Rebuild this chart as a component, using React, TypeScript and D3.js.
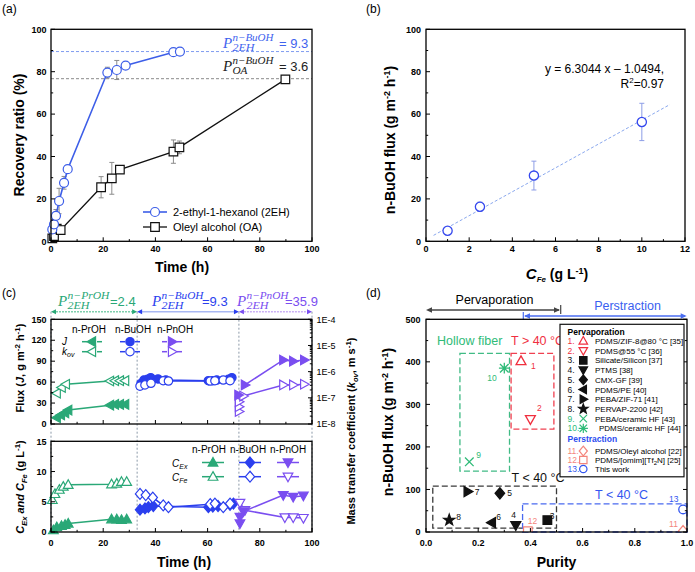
import React from "react";
import * as d3 from "d3";

const SANS = "'Liberation Sans', Arial, Helvetica, sans-serif";
const SERIF = "'Liberation Serif', 'Times New Roman', serif";

// ---------------- (a) data ----------------
const aTime2EH = [0.5, 1.15, 1.9, 3.1, 5, 6.4, 21.6, 25.2, 28.6, 46.9, 49.4];
const aRec2EH = [5.6, 8, 12, 19, 27.6, 34, 79.6, 80.8, 82.9, 89.2, 89.5];
const aErr2EH = [1.5, 2, 3, 6, 3, 1, 2.5, 4.5, 1, 1, 1];
const aTimeOA = [0.5, 1.15, 2.2, 3.7, 19.2, 23.3, 26.4, 46.9, 49.2, 89.8];
const aRecOA = [1.4, 2.5, 6, 5.3, 25.5, 29.7, 33.8, 42.3, 44.3, 76.4];
const aErrOA = [0.5, 1, 1, 1, 5, 7.5, 1.5, 5.5, 3, 1];
const aRef2EH = 89.5;
const aRefOA = 76.7;
const aTicks = [0, 20, 40, 60, 80, 100];
const aMinor = [10, 30, 50, 70, 90];
const aSeriesNames = ["2-ethyl-1-hexanol (2EH)", "Oleyl alcohol (OA)"];

// ---------------- (b) data ----------------
const bConc = [1, 2.5, 5, 10];
const bFlux = [5, 16.3, 31, 56.3];
const bErr = [1, 2.2, 6.8, 8.8];
const bFitX = [0.35, 11.3];
const bFitY = [2.8, 64.5];
const bXTicks = [0, 2, 4, 6, 8, 10, 12];
const bXMinor = [1, 3, 5, 7, 9, 11];
const bYTicks = [0, 20, 40, 60, 80, 100];
const bYMinor = [10, 30, 50, 70, 90];
const bEquation = ["y = 6.3044 x \u2013 1.0494,", "R", "2", "=0.97"];

// ---------------- (c) data ----------------
const cPrJT = [2.2, 3.8, 5.4, 6.6, 22.6, 24.5, 26.4, 28.4];
const cPrJ = [9, 13, 16, 20, 27, 28, 28, 28];
const cPrKT = [2.2, 4.1, 5.7, 22.6, 24.5, 26.4, 28.4];
const cPrK = [1.5e-7, 2.5e-7, 3.3e-7, 4.4e-7, 4.5e-7, 4.5e-7, 4.5e-7];
const cBuJT = [34.5, 35.6, 37, 38.2, 41, 44, 60.3, 62, 63.5, 68, 69.3];
const cBuJ = [58, 63, 64, 66.3, 64.5, 63, 62, 62, 63, 64, 66.3];
const cBuKT = [34.1, 36, 38.3, 43, 45, 61, 62.8, 66, 68.6];
const cBuK = [2.8e-7, 3.1e-7, 3.6e-7, 4.5e-7, 4.4e-7, 4.4e-7, 4.5e-7, 4.8e-7, 4.5e-7];
const cPnJT = [71.8, 74.3, 89, 92.8, 97];
const cPnJ = [41.5, 56, 91.7, 90, 91.7];
const cPnKT = [72, 72, 72, 73.7, 89, 92.8, 97];
const cPnK = [3e-8, 4.6e-8, 7.1e-8, 1.17e-7, 3.1e-7, 3.1e-7, 3.3e-7];

const cPrCexT = [0.9, 2.2, 4, 5.4, 6.6, 23.2, 25.2, 27, 29];
const cPrCex = [0.3, 0.8, 1.0, 1.2, 1.4, 2.1, 2.1, 2.0, 2.1];
const cPrCfeT = [0.5, 1.5, 3.2, 4.7, 6.6, 23.2, 25.2, 27, 29];
const cPrCfe = [5.3, 6.3, 7.0, 7.5, 7.8, 7.9, 8.0, 8.3, 8.3];
const cBuCexT = [34.1, 36, 37.3, 39.2, 60.3, 62, 64, 68.6, 69.9];
const cBuCex = [3.7, 3.9, 4.1, 4.3, 4.1, 4.2, 4.3, 4.5, 4.7];
const cBuCfeT = [34.1, 36.3, 39, 43, 45, 61, 62.8, 66, 68.6];
const cBuCfe = [6.3, 6.1, 5.7, 4.4, 4.1, 4.6, 4.7, 4.1, 4.7];
const cPnCexT = [72.4, 72.4, 73.7, 89, 92.8, 96.7];
const cPnCex = [1.4, 2.5, 3.4, 6.1, 5.8, 6.0];
const cPnCfeT = [72.4, 74.3, 89.6, 92.8, 96.7];
const cPnCfe = [4.8, 3.6, 2.4, 2.4, 2.3];

const cPhaseBounds = [0, 33, 72, 100];
const cPhaseValues = ["2.4", "9.3", "35.9"];
const cPhaseAlcohols = ["n\u2212PrOH", "n\u2212BuOH", "n\u2212PnOH"];
const cAlcoholNames = ["n-PrOH", "n-BuOH", "n-PnOH"];
const cXTicks = [0, 20, 40, 60, 80, 100];
const cXMinor = [10, 30, 50, 70, 90];
const cJTicks = [0, 30, 60, 90, 120, 150];
const cJMinor = [15, 45, 75, 105, 135];
const cKTicks = [1e-8, 1e-7, 1e-6, 1e-5, 1e-4];
const cKLabels = ["1E-8", "1E-7", "1E-6", "1E-5", "1E-4"];
const cCTicks = [0, 5, 10, 15];
const cCMinor = [2.5, 7.5, 12.5];

// ---------------- (d) data ----------------
const dNames = [
  "PDMS/ZIF-8@80 \u00B0C [35]",
  "PDMS@55 \u00B0C [36]",
  "Silicate/Silicon [37]",
  "PTMS [38]",
  "CMX-GF [39]",
  "PDMS/PE [40]",
  "PEBA/ZIF-71 [41]",
  "PERVAP-2200 [42]",
  "PEBA/ceramic HF [43]",
  "PDMS/ceramic HF [44]",
  "PDMS/Oleyl alcohol [22]",
  "PDMS/[omim][Tf2N] [25]",
  "This work",
];
const dPurity = [0.364, 0.40, 0.465, 0.344, 0.283, 0.252, 0.16, 0.089, 0.166, 0.30, 0.985, 0.39, 0.985];
const dFlux = [402, 265, 28, 16, 91, 22, 95, 28, 165, 385, 2, 2, 53];
const dShapes = ["triUp", "triDown", "square", "triDown", "diamond", "triLeft", "triRight", "star", "x", "asterisk", "diamond", "square", "circle"];
const dGroups = ["hot", "hot", "cold", "cold", "cold", "cold", "cold", "cold", "hf", "hf", "pers", "pers", "work"];
const dBoxGroups = ["hf", "hot", "cold", "work"];
const dBoxPurityMin = [0.13, 0.326, 0.026, 0.37];
const dBoxPurityMax = [0.32, 0.49, 0.50, 1.0];
const dBoxFluxMin = [143, 242, 9, 0];
const dBoxFluxMax = [420, 420, 108, 66];
const dXTicks = [0, 0.2, 0.4, 0.6, 0.8, 1.0];
const dXMinor = [0.1, 0.3, 0.5, 0.7, 0.9];
const dYTicks = [0, 100, 200, 300, 400, 500];
const dYMinor = [50, 150, 250, 350, 450];

// ---------------- styling ----------------
const A_BLUE = "#3d5ee8";
const GREEN = "#2aa877";
const BLUE = "#2b3fee";
const PURPLE = "#7a4ef0";
const D_COLORS: Record<string, string> = {
  hot: "#f0303f",
  cold: "#111111",
  hf: "#2fbb78",
  pers: "#f4857c",
  work: "#3356f0",
};
const D_BOX_COLORS: Record<string, string> = {
  hf: "#40bb85",
  hot: "#f04050",
  cold: "#3a3a3a",
  work: "#4a6af0",
};

function shapePath(shape: string, s: number): string {
  switch (shape) {
    case "circle":
      return `M${-s},0A${s},${s} 0 1,0 ${s},0A${s},${s} 0 1,0 ${-s},0Z`;
    case "square":
      return `M${-s},${-s}H${s}V${s}H${-s}Z`;
    case "diamond": {
      const t = s * 1.3;
      return `M0,${-t}L${t * 0.85},0L0,${t}L${-t * 0.85},0Z`;
    }
    case "triUp":
      return `M0,${-s * 1.2}L${s * 1.15},${s * 0.85}L${-s * 1.15},${s * 0.85}Z`;
    case "triDown":
      return `M0,${s * 1.2}L${s * 1.15},${-s * 0.85}L${-s * 1.15},${-s * 0.85}Z`;
    case "triLeft":
      return `M${-s * 1.2},0L${s * 0.85},${-s * 1.15}L${s * 0.85},${s * 1.15}Z`;
    case "triRight":
      return `M${s * 1.2},0L${-s * 0.85},${-s * 1.15}L${-s * 0.85},${s * 1.15}Z`;
    case "star": {
      const pts: string[] = [];
      for (let i = 0; i < 10; i++) {
        const r = i % 2 === 0 ? s * 1.35 : s * 0.55;
        const a = -Math.PI / 2 + (i * Math.PI) / 5;
        pts.push(`${(r * Math.cos(a)).toFixed(2)},${(r * Math.sin(a)).toFixed(2)}`);
      }
      return "M" + pts.join("L") + "Z";
    }
    case "x":
      return `M${-s},${-s}L${s},${s}M${-s},${s}L${s},${-s}`;
    case "asterisk": {
      const t = s * 1.25;
      return `M${-s},${-s}L${s},${s}M${-s},${s}L${s},${-s}M0,${-t}V${t}M${-t},0H${t}`;
    }
  }
  return "";
}

function Mk({ shape, x, y, s, color, filled, sw = 1.2 }: any) {
  const strokeOnly = shape === "x" || shape === "asterisk";
  return (
    <path
      d={shapePath(shape, s)}
      transform={`translate(${x},${y})`}
      fill={strokeOnly ? "none" : filled ? color : "#fff"}
      stroke={color}
      strokeWidth={sw}
    />
  );
}

function seriesPath(xs: any, ys: any, tx: number[], vy: number[]): string {
  return (
    d3
      .line<number>()
      .x((i) => xs(tx[i]))
      .y((i) => ys(vy[i]))(tx.map((_, i) => i)) || ""
  );
}

function Frame({ xs, ys, xMajor, xMinor, yMajor, yMinor, xFmt, yFmt, yLabelX, xLabelY, mirrorY }: any) {
  const [x0, x1] = xs.range();
  const [yb, yt] = ys.range();
  return (
    <g>
      {xMajor.map((v: number) => (
        <line key={"xM" + v} x1={xs(v)} x2={xs(v)} y1={yb} y2={yb - 4} stroke="#000" strokeWidth={1} />
      ))}
      {xMinor.map((v: number) => (
        <line key={"xm" + v} x1={xs(v)} x2={xs(v)} y1={yb} y2={yb - 2.2} stroke="#000" strokeWidth={1} />
      ))}
      {yMajor.map((v: number) => (
        <line key={"yM" + v} x1={x0} x2={x0 + 4} y1={ys(v)} y2={ys(v)} stroke="#000" strokeWidth={1} />
      ))}
      {yMinor.map((v: number) => (
        <line key={"ym" + v} x1={x0} x2={x0 + 2.2} y1={ys(v)} y2={ys(v)} stroke="#000" strokeWidth={1} />
      ))}
      {mirrorY &&
        yMajor.map((v: number) => (
          <line key={"yR" + v} x1={x1} x2={x1 - 4} y1={ys(v)} y2={ys(v)} stroke="#000" strokeWidth={1} />
        ))}
      {mirrorY &&
        yMinor.map((v: number) => (
          <line key={"yr" + v} x1={x1} x2={x1 - 2.2} y1={ys(v)} y2={ys(v)} stroke="#000" strokeWidth={1} />
        ))}
      {xFmt &&
        xMajor.map((v: number) => (
          <text key={"xl" + v} x={xs(v)} y={xLabelY} textAnchor="middle" fontSize={9} fontWeight="bold">
            {xFmt(v)}
          </text>
        ))}
      {yFmt &&
        yMajor.map((v: number) => (
          <text key={"yl" + v} x={yLabelX} y={ys(v) + 3.2} textAnchor="end" fontSize={9} fontWeight="bold">
            {yFmt(v)}
          </text>
        ))}
      <rect x={x0} y={yt} width={x1 - x0} height={yb - yt} fill="none" stroke="#000" strokeWidth={1.3} />
    </g>
  );
}

function ErrBars({ xs, ys, tx, vy, err, color }: any) {
  return (
    <g stroke={color} strokeWidth={1}>
      {tx.map((t: number, i: number) => {
        const x = xs(t);
        const ya = ys(vy[i] - err[i]);
        const yb = ys(vy[i] + err[i]);
        return (
          <g key={i}>
            <line x1={x} x2={x} y1={ya} y2={yb} />
            <line x1={x - 2.5} x2={x + 2.5} y1={ya} y2={ya} />
            <line x1={x - 2.5} x2={x + 2.5} y1={yb} y2={yb} />
          </g>
        );
      })}
    </g>
  );
}

function VText({ x, y, children, ...rest }: any) {
  return (
    <text transform={`translate(${x},${y}) rotate(-90)`} textAnchor="middle" {...rest}>
      {children}
    </text>
  );
}

// P with stacked super/subscript; widths set so the parts never collide
function PLabel({ x, y, sup, sub, val, color, supW, subW, valX, supDy = -7.5, subDy = 3 }: any) {
  return (
    <g fill={color}>
      <text x={x} y={y} fontFamily={SERIF} fontStyle="italic" fontSize={15}>
        P
      </text>
      <text
        x={x + 9.5}
        y={y + supDy}
        fontFamily={SERIF}
        fontStyle="italic"
        fontSize={10.5}
        textLength={supW}
        lengthAdjust="spacingAndGlyphs"
      >
        {sup}
      </text>
      <text
        x={x + 9.5}
        y={y + subDy}
        fontFamily={SERIF}
        fontStyle="italic"
        fontSize={10.5}
        textLength={subW}
        lengthAdjust="spacingAndGlyphs"
      >
        {sub}
      </text>
      <text x={x + valX} y={y} fontSize={13}>
        {val}
      </text>
    </g>
  );
}

// ============================ (a) ============================
function PanelA() {
  const xs = d3.scaleLinear().domain([0, 100]).range([51, 312]);
  const ys = d3.scaleLinear().domain([0, 100]).range([241.3, 29.3]);
  const l2 = seriesPath(xs, ys, aTime2EH, aRec2EH);
  const lO = seriesPath(xs, ys, aTimeOA, aRecOA);
  return (
    <g>
      <text x={2} y={13} fontSize={12}>
        (a)
      </text>
      <line x1={51} x2={312} y1={ys(aRef2EH)} y2={ys(aRef2EH)} stroke="#7f9cf0" strokeDasharray="3,2" />
      <line x1={51} x2={312} y1={ys(aRefOA)} y2={ys(aRefOA)} stroke="#8a8a8a" strokeDasharray="3,2" />
      <ErrBars xs={xs} ys={ys} tx={aTimeOA} vy={aRecOA} err={aErrOA} color="#8c8c8c" />
      <ErrBars xs={xs} ys={ys} tx={aTime2EH} vy={aRec2EH} err={aErr2EH} color="#8c8c8c" />
      <path d={lO} fill="none" stroke="#111" strokeWidth={1.3} />
      <path d={l2} fill="none" stroke={A_BLUE} strokeWidth={1.6} />
      {aTimeOA.map((t, i) => (
        <Mk key={"o" + i} shape="square" x={xs(t)} y={ys(aRecOA[i])} s={4.3} color="#111" filled={false} />
      ))}
      {aTime2EH.map((t, i) => (
        <Mk key={"e" + i} shape="circle" x={xs(t)} y={ys(aRec2EH[i])} s={4.5} color={A_BLUE} filled={false} />
      ))}
      <Frame
        xs={xs}
        ys={ys}
        xMajor={aTicks}
        xMinor={aMinor}
        yMajor={aTicks}
        yMinor={aMinor}
        xFmt={(v: number) => String(v)}
        yFmt={(v: number) => String(v)}
        yLabelX={46.5}
        xLabelY={252}
      />
      {/* legend */}
      <line x1={143} x2={167} y1={212} y2={212} stroke={A_BLUE} strokeWidth={1.6} />
      <Mk shape="circle" x={155} y={212} s={4.5} color={A_BLUE} filled={false} />
      <text x={173} y={216} fontSize={11}>
        {aSeriesNames[0]}
      </text>
      <line x1={143} x2={167} y1={227} y2={227} stroke="#111" strokeWidth={1.3} />
      <Mk shape="square" x={155} y={227} s={4.3} color="#111" filled={false} />
      <text x={173} y={231} fontSize={11}>
        {aSeriesNames[1]}
      </text>
      <PLabel x={223} y={48} sup={"n\u2212BuOH"} sub="2EH" val="= 9.3" color="#3f63ee" supW={41} subW={22} valX={56} />
      <PLabel x={223} y={71} sup={"n\u2212BuOH"} sub="OA" val="= 3.6" color="#222" supW={41} subW={15} valX={56} />
      <VText x={24} y={135} fontSize={14} fontWeight="bold">
        Recovery ratio (%)
      </VText>
      <text x={182} y={272} textAnchor="middle" fontSize={14} fontWeight="bold">
        Time (h)
      </text>
    </g>
  );
}

// ============================ (b) ============================
function PanelB() {
  const xs = d3.scaleLinear().domain([0, 12]).range([426, 685]);
  const ys = d3.scaleLinear().domain([0, 100]).range([241.3, 29.3]);
  return (
    <g>
      <text x={366} y={13} fontSize={12}>
        (b)
      </text>
      <path d={seriesPath(xs, ys, bFitX, bFitY)} fill="none" stroke="#8aa8ee" strokeDasharray="3,2" strokeWidth={1} />
      <ErrBars xs={xs} ys={ys} tx={bConc} vy={bFlux} err={bErr} color="#8d9de6" />
      {bConc.map((c, i) => (
        <Mk key={i} shape="circle" x={xs(c)} y={ys(bFlux[i])} s={4.6} color="#3548ee" filled={false} sw={1.3} />
      ))}
      <Frame
        xs={xs}
        ys={ys}
        xMajor={bXTicks}
        xMinor={bXMinor}
        yMajor={bYTicks}
        yMinor={bYMinor}
        xFmt={(v: number) => String(v)}
        yFmt={(v: number) => String(v)}
        yLabelX={421}
        xLabelY={252}
      />
      <text x={664} y={73} textAnchor="end" fontSize={12}>
        {bEquation[0]}
      </text>
      <text x={664} y={88} textAnchor="end" fontSize={12}>
        {bEquation[1]}
        <tspan dy={-5} fontSize={8}>
          {bEquation[2]}
        </tspan>
        <tspan dy={5}>{bEquation[3]}</tspan>
      </text>
      <VText x={395} y={140} fontSize={14} fontWeight="bold">
        n-BuOH flux (g m<tspan dy={-5} fontSize={9}>-2</tspan>
        <tspan dy={5}> h</tspan>
        <tspan dy={-5} fontSize={9}>-1</tspan>
        <tspan dy={5}>)</tspan>
      </VText>
      <text x={557} y={279} textAnchor="middle" fontSize={14} fontWeight="bold">
        <tspan fontStyle="italic" fontSize={15}>C</tspan>
        <tspan dy={3} fontStyle="italic" fontSize={8}>Fe</tspan>
        <tspan dy={-3}> (g L</tspan>
        <tspan dy={-5} fontSize={9}>-1</tspan>
        <tspan dy={5}>)</tspan>
      </text>
    </g>
  );
}

// ============================ (c) ============================
function PanelC() {
  const xs = d3.scaleLinear().domain([0, 100]).range([51, 312]);
  const yJ = d3.scaleLinear().domain([0, 150]).range([424, 319.3]);
  const yK = d3.scaleLog().domain([1e-8, 1e-4]).range([424, 319.3]);
  const yC = d3.scaleLinear().domain([0, 15]).range([532, 441.3]);
  const phaseColors = [GREEN, BLUE, PURPLE];
  const arrowLine = ["#7fd0ad", "#a9b8f3", "#cbb0f5"];
  const arrowY = 311.7;
  const kMinor: number[] = [];
  for (let e = -8; e < -4; e++) for (let m = 2; m < 10; m++) kMinor.push(m * Math.pow(10, e));
  const ms = 4.2;
  const pX = [58, 152, 237];
  const pValX = [52, 50, 48];
  return (
    <g>
      <text x={2} y={297} fontSize={12}>
        (c)
      </text>
      {/* phase separators */}
      {cPhaseBounds.map((b, i) => (
        <line key={"sep" + i} x1={xs(b)} x2={xs(b)} y1={arrowY} y2={532} stroke="#8b99a8" strokeDasharray="2,2" strokeWidth={1} />
      ))}
      {/* phase arrows */}
      {cPhaseValues.map((v, i) => {
        const xa = xs(cPhaseBounds[i]);
        const xb = xs(cPhaseBounds[i + 1]);
        const c = phaseColors[i];
        return (
          <g key={"ph" + i}>
            <line x1={xa + 2} x2={xb - 2} y1={arrowY} y2={arrowY} stroke={arrowLine[i]} strokeWidth={1.6} strokeDasharray={i === 1 ? undefined : "2,1"} />
            <path d={`M${xa},${arrowY}l5,-2.5v5z`} fill={c} />
            <path d={`M${xb},${arrowY}l-5,-2.5v5z`} fill={c} />
            <PLabel
              x={pX[i]}
              y={306}
              sup={cPhaseAlcohols[i]}
              sub="2EH"
              val={"=" + v}
              color={c}
              supW={42}
              subW={22}
              valX={pValX[i]}
            />
          </g>
        );
      })}

      {/* ---- top subplot ---- */}
      <path d={seriesPath(xs, yJ, cPrJT, cPrJ)} fill="none" stroke={GREEN} strokeWidth={1.5} />
      <path d={seriesPath(xs, yK, cPrKT, cPrK)} fill="none" stroke={GREEN} strokeWidth={1.5} />
      <path d={seriesPath(xs, yJ, cBuJT, cBuJ)} fill="none" stroke={BLUE} strokeWidth={1.5} />
      <path d={seriesPath(xs, yK, cBuKT, cBuK)} fill="none" stroke={BLUE} strokeWidth={1.5} />
      <path d={seriesPath(xs, yJ, cPnJT.slice(1), cPnJ.slice(1))} fill="none" stroke={PURPLE} strokeWidth={1.5} />
      <path d={seriesPath(xs, yK, cPnKT.slice(3), cPnK.slice(3))} fill="none" stroke={PURPLE} strokeWidth={1.5} />
      {cPrKT.map((t, i) => <Mk key={"pk" + i} shape="triLeft" x={xs(t)} y={yK(cPrK[i])} s={ms} color={GREEN} filled={false} />)}
      {cPrJT.map((t, i) => <Mk key={"pj" + i} shape="triLeft" x={xs(t)} y={yJ(cPrJ[i])} s={ms} color={GREEN} filled={true} />)}
      {cBuJT.map((t, i) => <Mk key={"bj" + i} shape="circle" x={xs(t)} y={yJ(cBuJ[i])} s={ms} color={BLUE} filled={true} />)}
      {cBuKT.map((t, i) => <Mk key={"bk" + i} shape="circle" x={xs(t)} y={yK(cBuK[i])} s={ms} color={BLUE} filled={false} />)}
      {cPnKT.map((t, i) => <Mk key={"nk" + i} shape="triRight" x={xs(t)} y={yK(cPnK[i])} s={ms} color={PURPLE} filled={false} />)}
      {cPnJT.map((t, i) => <Mk key={"nj" + i} shape="triRight" x={xs(t)} y={yJ(cPnJ[i])} s={ms} color={PURPLE} filled={true} />)}
      <Frame
        xs={xs}
        ys={yJ}
        xMajor={cXTicks}
        xMinor={cXMinor}
        yMajor={cJTicks}
        yMinor={cJMinor}
        yFmt={(v: number) => String(v)}
        yLabelX={46.5}
      />
      {cKTicks.map((v, i) => (
        <g key={"kt" + i}>
          <line x1={312} x2={308} y1={yK(v)} y2={yK(v)} stroke="#000" />
          <text x={316.5} y={yK(v) + 3.2} fontSize={9}>
            {cKLabels[i]}
          </text>
        </g>
      ))}
      {kMinor.map((v, i) => (
        <line key={"km" + i} x1={312} x2={309.8} y1={yK(v)} y2={yK(v)} stroke="#000" />
      ))}
      {/* top legend */}
      {cAlcoholNames.map((n, i) => (
        <text key={"ln" + i} x={[72, 115, 157][i]} y={333} fontSize={10}>
          {n}
        </text>
      ))}
      <text x={62} y={345} fontSize={10} fontStyle="italic">
        J
      </text>
      <text x={62} y={355} fontSize={10} fontStyle="italic">
        k<tspan dy={2} fontSize={7}>ov</tspan>
      </text>
      {[0, 1, 2].map((i) => {
        const cx = [92, 130, 172][i];
        const shape = ["triLeft", "circle", "triRight"][i];
        const c = phaseColors[i];
        return (
          <g key={"lg" + i}>
            <line x1={cx - 10} x2={cx - 5} y1={341.7} y2={341.7} stroke={c} strokeWidth={1.5} />
            <line x1={cx + 5} x2={cx + 10} y1={341.7} y2={341.7} stroke={c} strokeWidth={1.5} />
            <Mk shape={shape} x={cx} y={341.7} s={ms} color={c} filled={true} />
            <line x1={cx - 10} x2={cx - 5} y1={351.7} y2={351.7} stroke={c} strokeWidth={1.5} />
            <line x1={cx + 5} x2={cx + 10} y1={351.7} y2={351.7} stroke={c} strokeWidth={1.5} />
            <Mk shape={shape} x={cx} y={351.7} s={ms} color={c} filled={false} />
          </g>
        );
      })}

      {/* ---- bottom subplot ---- */}
      <path d={seriesPath(xs, yC, cPrCexT, cPrCex)} fill="none" stroke={GREEN} strokeWidth={1.5} />
      <path d={seriesPath(xs, yC, cPrCfeT, cPrCfe)} fill="none" stroke={GREEN} strokeWidth={1.5} />
      <path d={seriesPath(xs, yC, cBuCexT, cBuCex)} fill="none" stroke={BLUE} strokeWidth={1.5} />
      <path d={seriesPath(xs, yC, cBuCfeT, cBuCfe)} fill="none" stroke={BLUE} strokeWidth={1.5} />
      <path d={seriesPath(xs, yC, cPnCexT.slice(1), cPnCex.slice(1))} fill="none" stroke={PURPLE} strokeWidth={1.5} />
      <path d={seriesPath(xs, yC, cPnCfeT, cPnCfe)} fill="none" stroke={PURPLE} strokeWidth={1.5} />
      {cPrCfeT.map((t, i) => <Mk key={"pf" + i} shape="triUp" x={xs(t)} y={yC(cPrCfe[i])} s={ms} color={GREEN} filled={false} />)}
      {cPrCexT.map((t, i) => <Mk key={"pe" + i} shape="triUp" x={xs(t)} y={yC(cPrCex[i])} s={ms} color={GREEN} filled={true} />)}
      {cBuCexT.map((t, i) => <Mk key={"be" + i} shape="diamond" x={xs(t)} y={yC(cBuCex[i])} s={ms} color={BLUE} filled={true} />)}
      {cBuCfeT.map((t, i) => <Mk key={"bf" + i} shape="diamond" x={xs(t)} y={yC(cBuCfe[i])} s={ms} color={BLUE} filled={false} />)}
      {cPnCfeT.map((t, i) => <Mk key={"nf" + i} shape="triDown" x={xs(t)} y={yC(cPnCfe[i])} s={ms} color={PURPLE} filled={false} />)}
      {cPnCexT.map((t, i) => <Mk key={"ne" + i} shape="triDown" x={xs(t)} y={yC(cPnCex[i])} s={ms} color={PURPLE} filled={true} />)}
      <Frame
        xs={xs}
        ys={yC}
        xMajor={cXTicks}
        xMinor={cXMinor}
        yMajor={cCTicks}
        yMinor={cCMinor}
        xFmt={(v: number) => String(v)}
        yFmt={(v: number) => String(v)}
        yLabelX={46.5}
        xLabelY={545.5}
      />
      {/* bottom legend */}
      {cAlcoholNames.map((n, i) => (
        <text key={"bn" + i} x={[192, 230, 270][i]} y={453} fontSize={10}>
          {n}
        </text>
      ))}
      <text x={172} y={466.5} fontSize={10} fontStyle="italic">
        C<tspan dy={2} fontSize={7}>Ex</tspan>
      </text>
      <text x={172} y={480.5} fontSize={10} fontStyle="italic">
        C<tspan dy={2} fontSize={7}>Fe</tspan>
      </text>
      {[0, 1, 2].map((i) => {
        const cx = [213, 250, 288][i];
        const shape = ["triUp", "diamond", "triDown"][i];
        const c = phaseColors[i];
        return (
          <g key={"bl" + i}>
            <line x1={cx - 11} x2={cx + 11} y1={462.5} y2={462.5} stroke={c} strokeWidth={1.5} />
            <Mk shape={shape} x={cx} y={462.5} s={ms} color={c} filled={true} />
            <line x1={cx - 11} x2={cx + 11} y1={476.7} y2={476.7} stroke={c} strokeWidth={1.5} />
            <Mk shape={shape} x={cx} y={476.7} s={ms} color={c} filled={false} />
          </g>
        );
      })}
      {/* axis titles */}
      <VText x={24} y={368} fontSize={11} fontWeight="bold">
        Flux (<tspan fontStyle="italic">J</tspan>, g m<tspan dy={-4} fontSize={8}>-2</tspan>
        <tspan dy={4}> h</tspan>
        <tspan dy={-4} fontSize={8}>-1</tspan>
        <tspan dy={4}>)</tspan>
      </VText>
      <VText x={24} y={487} fontSize={11} fontWeight="bold">
        <tspan fontStyle="italic">C</tspan>
        <tspan dy={2.5} fontSize={7.5} fontStyle="italic">Ex</tspan>
        <tspan dy={-2.5} fontStyle="italic"> and C</tspan>
        <tspan dy={2.5} fontSize={7.5} fontStyle="italic">Fe</tspan>
        <tspan dy={-2.5}> (g L</tspan>
        <tspan dy={-4} fontSize={8}>-1</tspan>
        <tspan dy={4}>)</tspan>
      </VText>
      <VText x={355} y={431} fontSize={11} fontWeight="bold">
        Mass transfer coefficient (<tspan fontStyle="italic">k</tspan>
        <tspan dy={2.5} fontSize={7.5} fontStyle="italic">ov</tspan>
        <tspan dy={-2.5}>, m s</tspan>
        <tspan dy={-4} fontSize={8}>-1</tspan>
        <tspan dy={4}>)</tspan>
      </VText>
      <text x={184} y={567} textAnchor="middle" fontSize={14} fontWeight="bold">
        Time (h)
      </text>
    </g>
  );
}

// ============================ (d) ============================
const dLabelDx = [10, 6.5, 2.5, -4.5, 7.5, 4.5, 7, 7, 7, -17, -14, 0, -14];
const dLabelDy = [8, -8, -1, -7, 3, -2.5, 3, 0, -3.5, 13, -4, -7, -7];

function PanelD() {
  const xs = d3.scaleLinear().domain([0, 1]).range([426, 687]);
  const ys = d3.scaleLinear().domain([0, 500]).range([532, 319.3]);
  const legX = 560;
  const rowY = (i: number) => (i < 10 ? 341 + i * 9.7 : [451, 460, 469][i - 10]);
  return (
    <g>
      <text x={366} y={297} fontSize={12}>
        (d)
      </text>
      <defs>
        <clipPath id="clipD">
          <rect x={426} y={319.3} width={261} height={212.7} />
        </clipPath>
      </defs>
      {/* top arrows */}
      <text x={494.5} y={304} textAnchor="middle" fontSize={12.5}>
        Pervaporation
      </text>
      <g stroke="#444" fill="#444">
        <line x1={428} x2={559} y1={310} y2={310} strokeWidth={1.3} />
        <line x1={560.7} x2={560.7} y1={305} y2={314} strokeWidth={1.2} />
        <path d="M426,310l6,-2.8v5.6z" stroke="none" />
        <path d="M560,310l-6,-2.8v5.6z" stroke="none" />
      </g>
      <text x={627.5} y={309.5} textAnchor="middle" fontSize={12.5} fill="#3a5ff0">
        Perstraction
      </text>
      <g stroke="#4a6df0" fill="#4a6df0">
        <line x1={525} x2={685} y1={316} y2={316} strokeWidth={1.3} />
        <line x1={523.3} x2={523.3} y1={312} y2={320} strokeWidth={1.2} />
        <path d="M524,316l6,-2.8v5.6z" stroke="none" />
        <path d="M686.7,316l-6,-2.8v5.6z" stroke="none" />
      </g>
      {/* boxes */}
      {dBoxGroups.map((g, i) => (
        <rect
          key={"bx" + i}
          x={xs(dBoxPurityMin[i])}
          y={ys(dBoxFluxMax[i])}
          width={xs(dBoxPurityMax[i]) - xs(dBoxPurityMin[i])}
          height={ys(dBoxFluxMin[i]) - ys(dBoxFluxMax[i])}
          fill="none"
          stroke={D_BOX_COLORS[g]}
          strokeWidth={1.3}
          strokeDasharray="6,3"
        />
      ))}
      <text x={437} y={345} fontSize={12.5} fill="#2fbb78">
        Hollow fiber
      </text>
      <text x={511} y={345} fontSize={12.5} fill="#f0303f">
        T &gt; 40 {"\u00B0"}C
      </text>
      <text x={511.5} y={482} fontSize={12.5} fill="#111">
        T &lt; 40 {"\u00B0"}C
      </text>
      <text x={595} y={499} fontSize={12.5} fill="#3356f0">
        T &lt; 40 {"\u00B0"}C
      </text>
      {/* points */}
      <g clipPath="url(#clipD)">
        {dPurity.map((p, i) => (
          <Mk
            key={"dp" + i}
            shape={dShapes[i]}
            x={xs(p)}
            y={ys(dFlux[i])}
            s={4.3}
            color={D_COLORS[dGroups[i]]}
            filled={dGroups[i] === "cold"}
            sw={1.3}
          />
        ))}
      </g>
      {dPurity.map((p, i) => (
        <text key={"dl" + i} x={xs(p) + dLabelDx[i]} y={ys(dFlux[i]) + dLabelDy[i]} fontSize={8.5} fill={D_COLORS[dGroups[i]]}>
          {i + 1}
        </text>
      ))}
      <Frame
        xs={xs}
        ys={ys}
        xMajor={dXTicks}
        xMinor={dXMinor}
        yMajor={dYTicks}
        yMinor={dYMinor}
        xFmt={(v: number) => v.toFixed(1)}
        yFmt={(v: number) => String(v)}
        yLabelX={420.5}
        xLabelY={546}
        mirrorY={true}
      />
      {/* legend */}
      <rect x={legX} y={324.3} width={124} height={152.5} fill="#fff" stroke="#111" strokeWidth={1.2} />
      <text x={567.5} y={334.5} fontSize={8.5} fontWeight="bold">
        Pervaporation
      </text>
      <text x={567.5} y={442} fontSize={8.5} fontWeight="bold" fill="#2b4cf0">
        Perstraction
      </text>
      {dNames.map((n, i) => {
        const y = rowY(i);
        const c = D_COLORS[dGroups[i]];
        const tx = i === 9 ? 599 : 595;
        return (
          <g key={"lr" + i}>
            <text x={567.5} y={y + 3} fontSize={8.5} fill={c}>
              {i + 1}.
            </text>
            <Mk shape={dShapes[i]} x={583.3} y={y} s={3.7} color={c} filled={dGroups[i] === "cold"} sw={1.2} />
            <text x={tx} y={y + 3} fontSize={8}>
              {i === 11 ? (
                <>
                  PDMS/[omim][Tf<tspan dy={2} fontSize={6}>2</tspan>
                  <tspan dy={-2}>N] [25]</tspan>
                </>
              ) : (
                n
              )}
            </text>
          </g>
        );
      })}
      <VText x={393} y={422} fontSize={14} fontWeight="bold">
        n-BuOH flux (g m<tspan dy={-5} fontSize={9}>-2</tspan>
        <tspan dy={5}> h</tspan>
        <tspan dy={-5} fontSize={9}>-1</tspan>
        <tspan dy={5}>)</tspan>
      </VText>
      <text x={556.5} y={566.5} textAnchor="middle" fontSize={14} fontWeight="bold">
        Purity
      </text>
    </g>
  );
}

export default function App() {
  return (
    <svg
      width={695}
      height={572}
      viewBox="0 0 695 572"
      style={{ position: "absolute", left: 0, top: 0, background: "#fff" }}
      fontFamily={SANS}
    >
      <rect width={695} height={572} fill="#fff" />
      <PanelA />
      <PanelB />
      <PanelC />
      <PanelD />
    </svg>
  );
}
